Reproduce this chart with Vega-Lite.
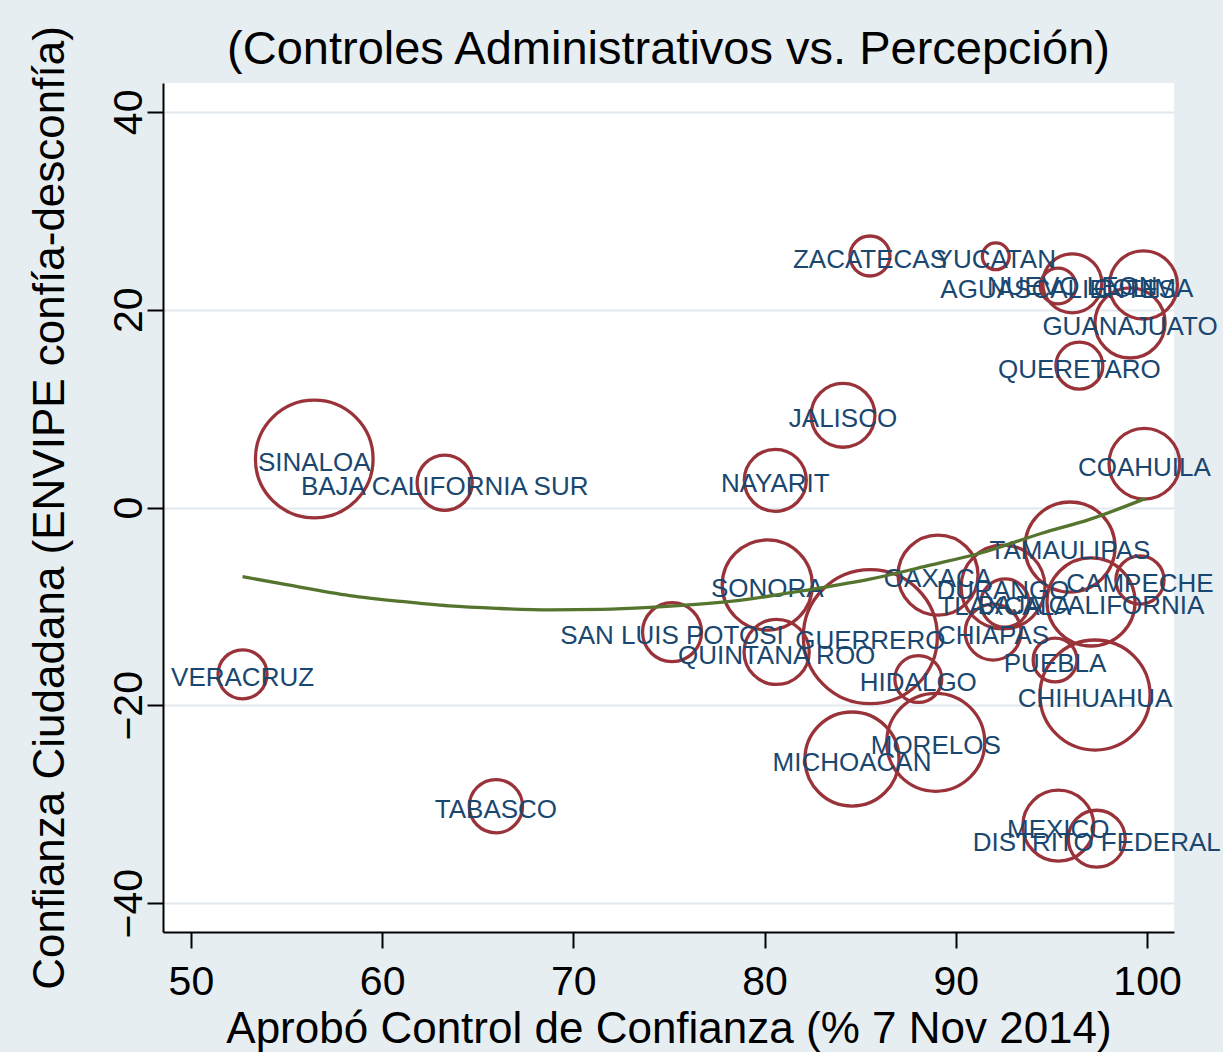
{
  "$schema": "https://vega.github.io/schema/vega-lite/v6.json",
  "width": 1011,
  "height": 849,
  "autosize": {"type": "none"},
  "padding": {"left": 163, "top": 83, "right": 49, "bottom": 120},
  "background": "#e7eef2",
  "title": {
    "text": "(Controles Administrativos vs. Percepción)",
    "font": "Liberation Sans",
    "fontSize": 47,
    "fontWeight": "normal",
    "color": "black",
    "anchor": "middle",
    "baseline": "bottom",
    "offset": 10,
    "dy": 105
  },
  "datasets": {
    "estados": [
      {"estado": "SINALOA", "control": 56.45, "confianza": 4.9, "peso": 34.6},
      {"estado": "BAJA CALIFORNIA SUR", "control": 63.27, "confianza": 2.5, "peso": 7.6},
      {"estado": "VERACRUZ", "control": 52.7, "confianza": -16.87, "peso": 6.0},
      {"estado": "TABASCO", "control": 65.95, "confianza": -30.2, "peso": 7.1},
      {"estado": "JALISCO", "control": 84.1, "confianza": 9.32, "peso": 10.2},
      {"estado": "NAYARIT", "control": 80.56, "confianza": 2.75, "peso": 9.6},
      {"estado": "COAHUILA", "control": 99.86, "confianza": 4.43, "peso": 12.5},
      {"estado": "ZACATECAS", "control": 85.51, "confianza": 25.43, "peso": 4.0},
      {"estado": "YUCATAN", "control": 92.09, "confianza": 25.4, "peso": 1.8},
      {"estado": "AGUASCALIENTES", "control": 95.35, "confianza": 22.4, "peso": 3.2},
      {"estado": "NUEVO LEON", "control": 96.09, "confianza": 22.67, "peso": 8.7},
      {"estado": "COLIMA", "control": 99.81, "confianza": 22.5, "peso": 11.6},
      {"estado": "GUANAJUATO", "control": 99.11, "confianza": 18.66, "peso": 12.3},
      {"estado": "QUERETARO", "control": 96.46, "confianza": 14.34, "peso": 5.5},
      {"estado": "TAMAULIPAS", "control": 95.97, "confianza": -4.0, "peso": 20.3},
      {"estado": "CAMPECHE", "control": 99.63, "confianza": -7.33, "peso": 5.8},
      {"estado": "BAJA CALIFORNIA", "control": 97.07, "confianza": -9.55, "peso": 19.4},
      {"estado": "CHIHUAHUA", "control": 97.28, "confianza": -18.96, "peso": 30.3},
      {"estado": "PUEBLA", "control": 95.19, "confianza": -15.42, "peso": 4.8},
      {"estado": "CHIAPAS", "control": 91.95, "confianza": -12.6, "peso": 7.8},
      {"estado": "OAXACA", "control": 89.07, "confianza": -6.83, "peso": 16.0},
      {"estado": "DURANGO", "control": 92.47, "confianza": -8.04, "peso": 17.6},
      {"estado": "TLAXCALA", "control": 92.57, "confianza": -9.66, "peso": 5.8},
      {"estado": "SONORA", "control": 80.14, "confianza": -7.84, "peso": 20.3},
      {"estado": "SAN LUIS POTOSI", "control": 75.16, "confianza": -12.6, "peso": 8.7},
      {"estado": "QUINTANA ROO", "control": 80.63, "confianza": -14.6, "peso": 10.6},
      {"estado": "GUERRERO", "control": 85.53, "confianza": -13.06, "peso": 44.9},
      {"estado": "HIDALGO", "control": 88.04, "confianza": -17.34, "peso": 5.5},
      {"estado": "MICHOACAN", "control": 84.57, "confianza": -25.43, "peso": 22.1},
      {"estado": "MORELOS", "control": 88.95, "confianza": -23.74, "peso": 24.0},
      {"estado": "MEXICO", "control": 95.36, "confianza": -32.17, "peso": 12.6},
      {"estado": "DISTRITO FEDERAL", "control": 97.37, "confianza": -33.49, "peso": 8.1}
    ],
    "ajuste": [
      {"control": 52.7, "confianza": -7.0},
      {"control": 55.0, "confianza": -7.8},
      {"control": 58.3, "confianza": -8.9},
      {"control": 61.0, "confianza": -9.5},
      {"control": 63.5, "confianza": -9.95},
      {"control": 66.0, "confianza": -10.2},
      {"control": 68.8, "confianza": -10.35},
      {"control": 71.5, "confianza": -10.3},
      {"control": 74.0, "confianza": -10.1},
      {"control": 78.2, "confianza": -9.5},
      {"control": 82.4, "confianza": -8.3},
      {"control": 85.5, "confianza": -7.25},
      {"control": 88.5, "confianza": -5.9},
      {"control": 91.3, "confianza": -4.6},
      {"control": 94.5, "confianza": -2.6},
      {"control": 97.0, "confianza": -1.2},
      {"control": 99.9, "confianza": 0.9}
    ]
  },
  "layer": [
    {
      "data": {"name": "estados"},
      "mark": {"type": "point", "shape": "circle", "filled": false, "color": "#993339", "strokeWidth": 3.3, "opacity": 1},
      "encoding": {
        "x": {
          "field": "control", "type": "quantitative",
          "scale": {"domain": [48.54, 101.41], "nice": false, "zero": false},
          "axis": {
            "title": "Aprobó Control de Confianza (% 7 Nov 2014)",
            "values": [50, 60, 70, 80, 90, 100],
            "grid": false,
            "domainColor": "black", "domainWidth": 2,
            "tickColor": "black", "tickWidth": 2, "tickSize": 16,
            "labelFont": "Liberation Sans", "labelFontSize": 41, "labelColor": "black",
            "labelPadding": 14, "labelFlush": false, "labelOverlap": false,
            "titleFont": "Liberation Sans", "titleFontSize": 44, "titleFontWeight": "normal", "titleColor": "black",
            "titleX": 505.5, "titleY": 97, "titleAlign": "center", "titleBaseline": "middle"
          }
        },
        "y": {
          "field": "confianza", "type": "quantitative",
          "scale": {"domain": [-42.92, 42.92], "nice": false, "zero": false},
          "axis": {
            "title": "Confianza Ciudadana (ENVIPE confía-desconfía)",
            "values": [-40, -20, 0, 20, 40],
            "grid": true, "gridColor": "#e1e9ee", "gridWidth": 2,
            "domainColor": "black", "domainWidth": 2,
            "tickColor": "black", "tickWidth": 2, "tickSize": 16,
            "labelFont": "Liberation Sans", "labelFontSize": 41, "labelColor": "black",
            "labelAngle": -90, "labelAlign": "center", "labelBaseline": "alphabetic",
            "labelPadding": 6, "labelFlush": false, "labelOverlap": false,
            "titleFont": "Liberation Sans", "titleFontSize": 44, "titleFontWeight": "normal", "titleColor": "black",
            "titleAngle": 270, "titleX": -112.5, "titleY": 424.5, "titleAlign": "center", "titleBaseline": "middle"
          }
        },
        "size": {
          "field": "peso", "type": "quantitative",
          "scale": {"type": "linear", "domain": [0, 50], "range": [0, 20000], "zero": true},
          "legend": null
        }
      }
    },
    {
      "data": {"name": "estados"},
      "mark": {"type": "text", "font": "Liberation Sans", "fontSize": 26, "color": "#1a476f", "align": "center", "baseline": "middle", "dy": 4},
      "encoding": {
        "x": {"field": "control", "type": "quantitative", "scale": {"domain": [48.54, 101.41], "nice": false, "zero": false}},
        "y": {"field": "confianza", "type": "quantitative", "scale": {"domain": [-42.92, 42.92], "nice": false, "zero": false}},
        "text": {"field": "estado", "type": "nominal"}
      }
    },
    {
      "data": {"name": "ajuste"},
      "mark": {"type": "line", "color": "#55752f", "strokeWidth": 3.3, "interpolate": "monotone"},
      "encoding": {
        "x": {"field": "control", "type": "quantitative", "scale": {"domain": [48.54, 101.41], "nice": false, "zero": false}},
        "y": {"field": "confianza", "type": "quantitative", "scale": {"domain": [-42.92, 42.92], "nice": false, "zero": false}}
      }
    }
  ],
  "config": {"view": {"stroke": null, "fill": "white"}}
}
